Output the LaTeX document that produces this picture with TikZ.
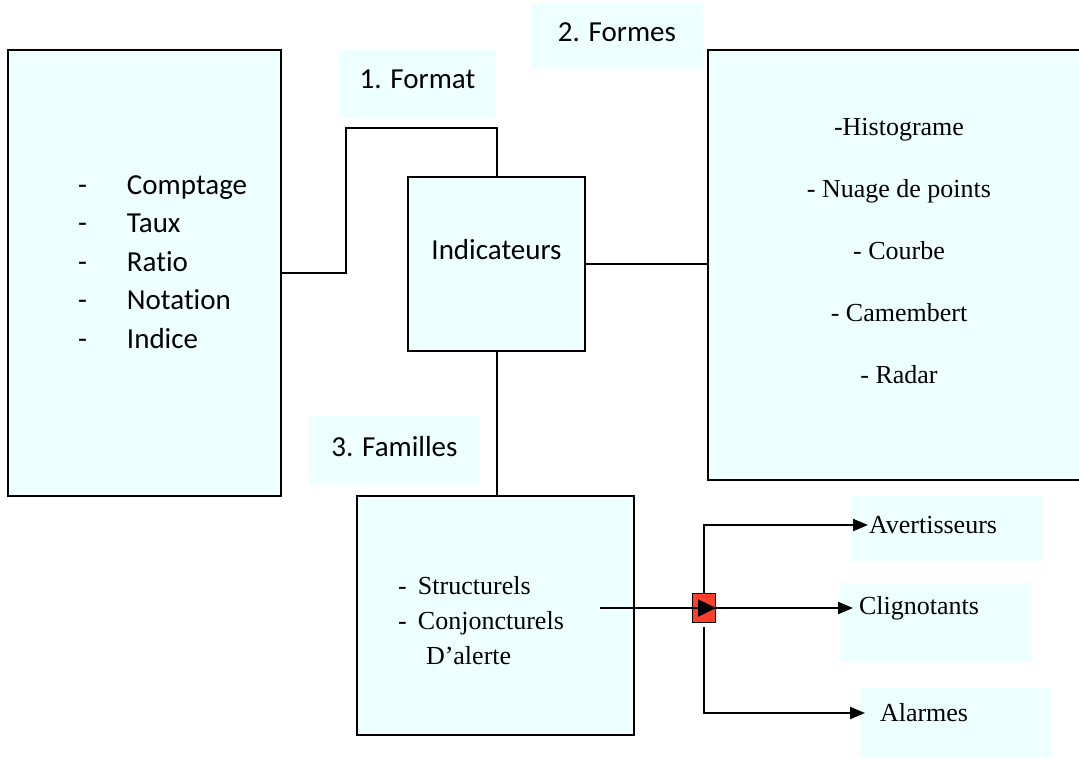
\documentclass[tikz,border=0pt]{standalone}
\usepackage{fontspec}
\setmainfont{Liberation Serif}
\newfontfamily\carl[Ligatures=NoCommon]{Carlito}
\usetikzlibrary{arrows.meta}
\definecolor{pale}{HTML}{EEFFFF}
\definecolor{alert}{HTML}{FF3F2A}

\begin{document}
\begin{tikzpicture}[x=1pt,y=-1pt,line width=2pt,
    panel/.style={draw,fill=pale,inner sep=0pt},
    tagbox/.style={fill=pale,inner sep=0pt,text depth=9pt,font=\carl\fontsize{29}{35}\selectfont},
    sans/.style={font=\carl\fontsize{29}{38.5}\selectfont},
    serif/.style={font=\fontsize{26}{35}\selectfont},
    outtext/.style={serif,anchor=west,inner sep=0pt},
    tip/.style={-{Triangle[length=15pt,width=12pt]}}]
      \useasboundingbox (0,0) rectangle (1079,758);

      % the boxes
      \path
      (144.5,273) node[panel,minimum width=273pt,minimum height=446pt](fmtbox) {}
      (496.5,264) node[panel,sans,text depth=30pt,minimum width=177pt,minimum height=174pt](ind) {Indicateurs}
      (894.5,265) node[panel,minimum width=373pt,minimum height=430pt](formbox) {}
      (495.5,615.5) node[panel,minimum width=277pt,minimum height=239pt](fambox) {}
      ;
      \path
      (417.5,84) node[tagbox,text depth=10pt,minimum width=157pt,minimum height=68pt](fmt) {1. Format}
      (617,36) node[tagbox,text depth=8pt,minimum width=172pt,minimum height=66pt](form) {2. Formes}
      (394.5,450.5) node[tagbox,minimum width=171pt,minimum height=69pt](fam) {3. Familles}
      (947,528.5) node[tagbox,minimum width=192pt,minimum height=65pt](avbox) {}
      (936,622.5) node[tagbox,minimum width=192pt,minimum height=79pt](clbox) {}
      (956,723) node[tagbox,minimum width=192pt,minimum height=70pt](albox) {}
      ;

      % the texts
      \node[sans,anchor=west,inner sep=0pt,align=left] (fmtlist) at (77,262)
        {\makebox[49pt][l]{-}Comptage\\ \makebox[49pt][l]{-}Taux\\ \makebox[49pt][l]{-}Ratio\\
         \makebox[49pt][l]{-}Notation\\ \makebox[49pt][l]{-}Indice};
      \node[font=\fontsize{26}{62}\selectfont,align=center] (formlist) at (899,251)
        {-Histograme\\ - Nuage de points\\ - Courbe\\ - Camembert\\ - Radar};
      \node[serif,anchor=west,inner sep=0pt,align=left] (famlist) at (397,621)
        {\makebox[20pt][l]{-}Structurels\\ \makebox[20pt][l]{-}Conjoncturels\\ \hspace*{28pt}D’alerte};

      \path
      (868,525) node[outtext](avtext) {Avertisseurs}
      (853,608) node[outtext,inner xsep=5pt](cltext) {Clignotants}
      (865,713) node[outtext,inner xsep=14pt](altext) {Alarmes}
      ;

      % the links
      \draw (fmtbox.east) -- ++(64,0) |- ([yshift=48pt]ind.north) -- (ind.north);
      \draw (ind.east) -- (ind.east -| formbox.west);
      \draw (ind.south) -- (ind.south |- fambox.north);

      \node[draw,fill=alert,line width=1.2pt,minimum width=23pt,minimum height=29pt,inner sep=0pt] (junc) at (704,608) {};
      \coordinate (famout) at (600,608);
      \draw[-{Triangle[length=18pt,width=17pt]}] (famout) -- (junc.east);

      \draw[tip] (junc.north) |- (avtext.west);
      \draw[tip] (junc.east) -- (cltext.west);
      \draw[tip] ([yshift=-4pt]junc.south) |- (altext.west);
    \end{tikzpicture}
\end{document}
